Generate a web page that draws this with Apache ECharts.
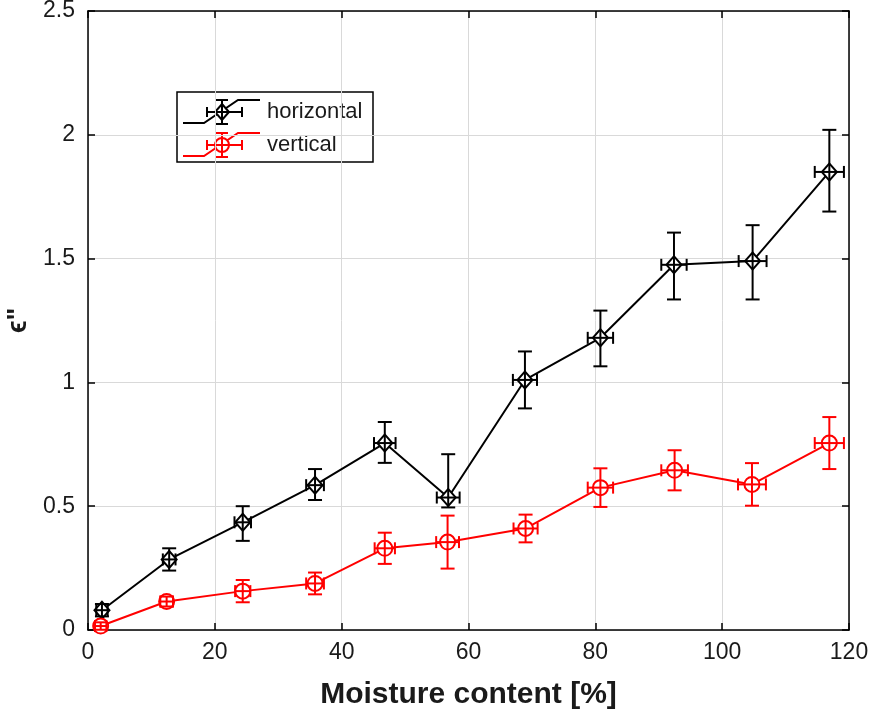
<!DOCTYPE html>
<html>
<head>
<meta charset="utf-8">
<script src="https://cdn.jsdelivr.net/npm/echarts@6/dist/echarts.min.js"></script>
<style>html,body{margin:0;padding:0;background:#fff;}#c{width:872px;height:716px;}</style>
</head>
<body>
<div id="c"></div>
<script>
// ---- data ----
const seriesNames = ['horizontal', 'vertical'];
const xTicks = [0, 20, 40, 60, 80, 100, 120];
const yTicks = [0, 0.5, 1, 1.5, 2, 2.5];

// horizontal
const xH     = [2.2, 12.8, 24.4, 35.8, 46.8, 56.8, 68.9, 80.8, 92.4, 104.8, 116.9];
const yH     = [0.08, 0.285, 0.435, 0.585, 0.755, 0.535, 1.01, 1.18, 1.475, 1.49, 1.85];
const yHLow  = [0.025, 0.045, 0.075, 0.06, 0.08, 0.04, 0.115, 0.115, 0.14, 0.155, 0.16];
const yHHigh = [0.025, 0.045, 0.065, 0.065, 0.085, 0.175, 0.115, 0.11, 0.13, 0.145, 0.17];
const xHErr  = [0.9, 1.0, 1.3, 1.4, 1.7, 1.8, 1.9, 2.0, 2.0, 2.2, 2.3];

// vertical
const xV     = [2.0, 12.4, 24.4, 35.8, 46.8, 56.7, 69.0, 80.8, 92.5, 104.7, 116.9];
const yV     = [0.016, 0.115, 0.157, 0.188, 0.33, 0.355, 0.41, 0.575, 0.645, 0.588, 0.755];
const yVErr  = [0.015, 0.02, 0.045, 0.044, 0.063, 0.107, 0.056, 0.078, 0.081, 0.086, 0.105];
const xVErr  = [0.9, 1.0, 1.2, 1.4, 1.6, 1.8, 1.9, 2.0, 2.1, 2.2, 2.3];

// ---- build ----
const hPts = xH.map((x, i) => [x, yH[i]]);
const vPts = xV.map((x, i) => [x, yV[i]]);
const hErr = xH.map((x, i) => [x, yH[i], yH[i] - yHLow[i], yH[i] + yHHigh[i], x - xHErr[i], x + xHErr[i]]);
const vErr = xV.map((x, i) => [x, yV[i], yV[i] - yVErr[i], yV[i] + yVErr[i], x - xVErr[i], x + xVErr[i]]);

function errRender(color) {
  return function (params, api) {
    const x = api.value(0), y = api.value(1);
    const pLow = api.coord([x, api.value(2)]);
    const pHigh = api.coord([x, api.value(3)]);
    const pL = api.coord([api.value(4), y]);
    const pR = api.coord([api.value(5), y]);
    const cap = 7, hcap = 6;
    const st = { stroke: color, lineWidth: 2 };
    const line = (x1, y1, x2, y2) => ({ type: 'line', shape: { x1, y1, x2, y2 }, style: st });
    return {
      type: 'group',
      children: [
        line(pLow[0], pLow[1], pHigh[0], pHigh[1]),
        line(pLow[0] - cap, pLow[1], pLow[0] + cap, pLow[1]),
        line(pHigh[0] - cap, pHigh[1], pHigh[0] + cap, pHigh[1]),
        line(pL[0], pL[1], pR[0], pR[1]),
        line(pL[0], pL[1] - hcap, pL[0], pL[1] + hcap),
        line(pR[0], pR[1] - hcap, pR[0], pR[1] + hcap)
      ]
    };
  };
}

const FONT = 'Liberation Sans, Arial, sans-serif';
const TXT = '#1a1a1a';
const chart = echarts.init(document.getElementById('c'), null, { renderer: 'canvas' });

function legendRow(cy, color, sym, label) {
  const st = { stroke: color, lineWidth: 2, fill: null };
  const ln = (x1, y1, x2, y2) => ({ type: 'line', shape: { x1, y1, x2, y2 }, style: st });
  const mx = 222;
  const marker = sym === 'diamond'
    ? { type: 'polygon', shape: { points: [[mx, cy - 8], [mx + 7, cy], [mx, cy + 8], [mx - 7, cy]] }, style: { stroke: color, lineWidth: 2, fill: '#fff' } }
    : { type: 'circle', shape: { cx: mx, cy: cy, r: 7 }, style: { stroke: color, lineWidth: 2, fill: '#fff' } };
  return [
    { type: 'polyline', shape: { points: [[183, cy + 11], [204, cy + 11], [238, cy - 12], [260, cy - 12]] }, style: st },
    marker,
    ln(mx, cy - 12, mx, cy + 12), ln(mx - 6, cy - 12, mx + 6, cy - 12), ln(mx - 6, cy + 12, mx + 6, cy + 12),
    ln(mx - 15, cy, mx + 20, cy), ln(mx - 15, cy - 5, mx - 15, cy + 5), ln(mx + 20, cy - 5, mx + 20, cy + 5),
    { type: 'text', style: { x: 267, y: cy, text: label, fill: TXT, font: '22px ' + FONT, textVerticalAlign: 'middle' } }
  ];
}

const option = {
  backgroundColor: '#fff',
  animation: false,
  grid: { left: 88, right: 23, top: 11, bottom: 86, containLabel: false, outerBoundsMode: 'none' },
  xAxis: [
    {
      type: 'value', min: 0, max: 120, interval: 20, position: 'bottom',
      name: 'Moisture content [%]', nameLocation: 'middle', nameGap: 50,
      nameTextStyle: { fontFamily: FONT, fontWeight: 'bold', fontSize: 30, color: TXT },
      axisLine: { show: true, lineStyle: { color: '#000', width: 1.5 } },
      axisTick: { show: true, inside: true, length: 7, lineStyle: { color: '#000', width: 1.5 } },
      axisLabel: { fontFamily: FONT, fontSize: 23, color: TXT, margin: 11 },
      splitLine: { show: true, lineStyle: { color: '#d9d9d9', width: 1 } }
    },
    {
      type: 'value', min: 0, max: 120, interval: 20, position: 'top',
      axisLine: { show: true, onZero: false, lineStyle: { color: '#000', width: 1.5 } },
      axisTick: { show: true, inside: true, length: 7, lineStyle: { color: '#000', width: 1.5 } },
      axisLabel: { show: false }, splitLine: { show: false }
    }
  ],
  yAxis: [
    {
      type: 'value', min: 0, max: 2.5, interval: 0.5, position: 'left',
      name: 'ϵ"', nameLocation: 'middle', nameGap: 55, nameRotate: 90,
      nameTextStyle: { fontFamily: FONT, fontWeight: 'bold', fontSize: 27, color: TXT },
      axisLine: { show: true, lineStyle: { color: '#000', width: 1.5 } },
      axisTick: { show: true, inside: true, length: 7, lineStyle: { color: '#000', width: 1.5 } },
      axisLabel: { fontFamily: FONT, fontSize: 23, color: TXT, margin: 13 },
      splitLine: { show: true, lineStyle: { color: '#d9d9d9', width: 1 } }
    },
    {
      type: 'value', min: 0, max: 2.5, interval: 0.5, position: 'right',
      axisLine: { show: true, onZero: false, lineStyle: { color: '#000', width: 1.5 } },
      axisTick: { show: true, inside: true, length: 7, lineStyle: { color: '#000', width: 1.5 } },
      axisLabel: { show: false }, splitLine: { show: false }
    }
  ],
  series: [
    {
      name: seriesNames[0], type: 'line', data: hPts, xAxisIndex: 0, yAxisIndex: 0,
      symbol: 'diamond', symbolSize: [15, 17], showAllSymbol: true,
      lineStyle: { color: '#000', width: 2 },
      itemStyle: { color: '#fff', borderColor: '#000', borderWidth: 2 }, z: 3
    },
    {
      name: seriesNames[1], type: 'line', data: vPts, xAxisIndex: 0, yAxisIndex: 0,
      symbol: 'circle', symbolSize: 15, showAllSymbol: true,
      lineStyle: { color: '#ff0000', width: 2 },
      itemStyle: { color: '#fff', borderColor: '#ff0000', borderWidth: 2 }, z: 3
    },
    { type: 'custom', renderItem: errRender('#000'), data: hErr, encode: { x: 0, y: 1 }, z: 4 },
    { type: 'custom', renderItem: errRender('#ff0000'), data: vErr, encode: { x: 0, y: 1 }, z: 4 }
  ],
  graphic: [
    {
      type: 'group', z: 100,
      children: [
        { type: 'rect', shape: { x: 177, y: 92, width: 196, height: 70 }, style: { fill: '#fff', stroke: '#000', lineWidth: 1.5 } }
      ].concat(legendRow(112, '#000', 'diamond', seriesNames[0]))
       .concat(legendRow(145, '#ff0000', 'circle', seriesNames[1]))
    }
  ]
};
chart.setOption(option);
</script>
</body>
</html>
